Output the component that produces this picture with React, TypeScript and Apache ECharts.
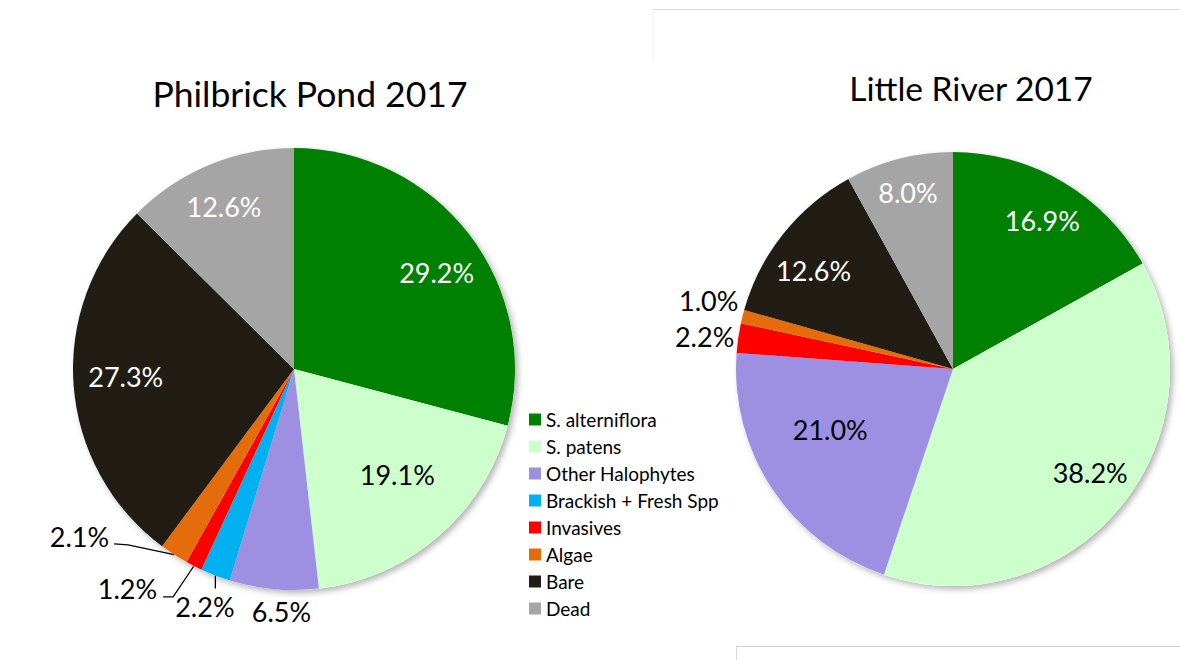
import React, { useEffect, useRef } from "react";
import * as echarts from "echarts";

const categories = [
  "S. alterniflora",
  "S. patens",
  "Other Halophytes",
  "Brackish + Fresh Spp",
  "Invasives",
  "Algae",
  "Bare",
  "Dead",
];
const philbrickValues = [29.2, 19.1, 6.5, 2.2, 1.2, 2.1, 27.3, 12.6];
const littleRiverValues = [16.9, 38.2, 21.0, 0, 2.2, 1.0, 12.6, 8.0];
const titles = ["Philbrick Pond 2017", "Little River 2017"];

const sliceColors = ["#008000", "#CCFFCC", "#9D90E3", "#00B0F0", "#FF0000", "#E46C0A", "#211D14", "#A5A5A5"];

const FONT = "Lato, 'Open Sans', sans-serif";

// label placement styles: [radius fraction, angle offset in degrees from slice middle]
const philbrickPlace = [[0.78, 3.4], [0.667, -3.7], [1.1, -2.25], [1.147, -0.25], [1.172, 4.95], [1.13, 14.9], [0.762, 1.8], [0.8, -0.7]];
const philbrickAlign = ["center", "center", "center", "center", "right", "right", "center", "center"];
const philbrickInside = [true, true, false, false, false, false, true, true];
const philbrickTextColor = ["#fff", "#000", "#000", "#000", "#000", "#000", "#fff", "#fff"];
// leader line: [elbow offset, end offset] relative to the label anchor
const philbrickLeader: any[] = [null, null, null, [[10.5, -17.7], [10.5, -17.7]], [[16, 8], [6, 8]], [[19, 8], [5, 7]], null, null];

const littlePlace = [[0.797, 0.65], [0.792, -2.7], [0.63, 7.5], [1, 0], [1.019, 0.3], [1.038, 3.7], [0.787, -3.2], [0.839, 0.1]];
const littleAlign = ["center", "center", "center", "center", "right", "right", "center", "center"];
const littleInside = [true, true, true, false, false, false, true, true];
const littleTextColor = ["#fff", "#000", "#000", "#000", "#000", "#000", "#fff", "#fff"];
const littleLeader: any[] = [null, null, null, null, null, null, null, null];

function polar(cx: number, cy: number, r: number, deg: number) {
  const a = (deg * Math.PI) / 180;
  return [cx + r * Math.sin(a), cy - r * Math.cos(a)];
}

function makeLayout(values: number[], cx: number, cy: number, r: number, place: number[][], align: string[], leader: any[]) {
  const total = values.reduce((a, b) => a + b, 0);
  return (params: any) => {
    const i = params.dataIndex;
    let cum = 0;
    for (let j = 0; j < i; j++) cum += values[j];
    const mid = ((cum + values[i] / 2) / total) * 360;
    const [k, da] = place[i];
    const [x, y] = polar(cx, cy, r * k, mid + da);
    const out: any = { x, y, align: align[i], verticalAlign: "middle" };
    const ld = leader[i];
    if (ld) {
      const edge = polar(cx, cy, r, mid);
      out.labelLinePoints = [edge, [x + ld[0][0], y + ld[0][1]], [x + ld[1][0], y + ld[1][1]]];
    }
    return out;
  };
}

function pieSeries(values: number[], cx: number, cy: number, r: number, place: number[][], align: string[], inside: boolean[], textColor: string[], leader: any[]) {
  return {
    type: "pie",
    center: [cx, cy],
    radius: r,
    startAngle: 90,
    clockwise: true,
    avoidLabelOverlap: false,
    z: 2,
    emphasis: { disabled: true },
    label: {
      fontFamily: FONT,
      fontSize: 27,
      formatter: (p: any) => p.value.toFixed(1) + "%",
    },
    labelLayout: makeLayout(values, cx, cy, r, place, align, leader),
    data: categories.map((name, i) => ({
      name,
      value: values[i],
      itemStyle: { color: sliceColors[i] },
      label: { show: values[i] > 0, color: textColor[i], position: inside[i] ? "inside" : "outside" },
      labelLine: { show: !!leader[i], lineStyle: { color: "#000", width: 1.3 } },
    })),
  };
}

function shadowSeries(values: number[], cx: number, cy: number, r: number) {
  return {
    type: "pie",
    center: [cx, cy],
    radius: r,
    silent: true,
    z: 1,
    label: { show: false },
    labelLine: { show: false },
    emphasis: { disabled: true },
    data: [
      {
        value: values.reduce((a, b) => a + b, 0),
        name: "",
        itemStyle: { color: "#ffffff", shadowBlur: 6, shadowOffsetX: 3, shadowOffsetY: 3, shadowColor: "rgba(0,0,0,0.3)" },
      },
    ],
  };
}

export default function App() {
  const ref = useRef<HTMLDivElement>(null);
  useEffect(() => {
    if (!ref.current) return;
    const chart = echarts.init(ref.current, undefined, { renderer: "svg" });
    const L = { cx: 294, cy: 369, r: 221 };
    const R = { cx: 953, cy: 369, r: 217 };
    chart.setOption({
      animation: false,
      backgroundColor: "#ffffff",
      legend: {
        orient: "vertical",
        left: 529,
        top: 410,
        padding: 0,
        icon: "rect",
        itemWidth: 12,
        itemHeight: 12,
        itemGap: 8,
        selectedMode: false,
        data: categories,
        textStyle: { fontFamily: FONT, fontSize: 19, lineHeight: 19, color: "#000" },
      },
      graphic: [
        { type: "text", x: 310, y: 93, style: { text: titles[0], font: `35.5px ${FONT}`, fill: "#000", align: "center", verticalAlign: "middle" } },
        { type: "text", x: 971, y: 88, style: { text: titles[1], font: `33.5px ${FONT}`, fill: "#000", align: "center", verticalAlign: "middle" } },
        { type: "line", shape: { x1: 653, y1: 9.5, x2: 1180, y2: 9.5 }, style: { stroke: "#d9d9d9", lineWidth: 1 } },
        { type: "line", shape: { x1: 653, y1: 9.5, x2: 653, y2: 60 }, style: { stroke: "#f0f0f0", lineWidth: 1 } },
        { type: "line", shape: { x1: 736, y1: 646.5, x2: 1180, y2: 646.5 }, style: { stroke: "#d0d0d0", lineWidth: 1 } },
        { type: "line", shape: { x1: 736.5, y1: 646.5, x2: 736.5, y2: 660 }, style: { stroke: "#d9d9d9", lineWidth: 1 } },
      ],
      series: [
        shadowSeries(philbrickValues, L.cx, L.cy, L.r),
        shadowSeries(littleRiverValues, R.cx, R.cy, R.r),
        pieSeries(philbrickValues, L.cx, L.cy, L.r, philbrickPlace, philbrickAlign, philbrickInside, philbrickTextColor, philbrickLeader),
        pieSeries(littleRiverValues, R.cx, R.cy, R.r, littlePlace, littleAlign, littleInside, littleTextColor, littleLeader),
      ],
    });
    return () => chart.dispose();
  }, []);
  return <div ref={ref} style={{ position: "absolute", left: 0, top: 0, width: 1180, height: 660 }} />;
}
